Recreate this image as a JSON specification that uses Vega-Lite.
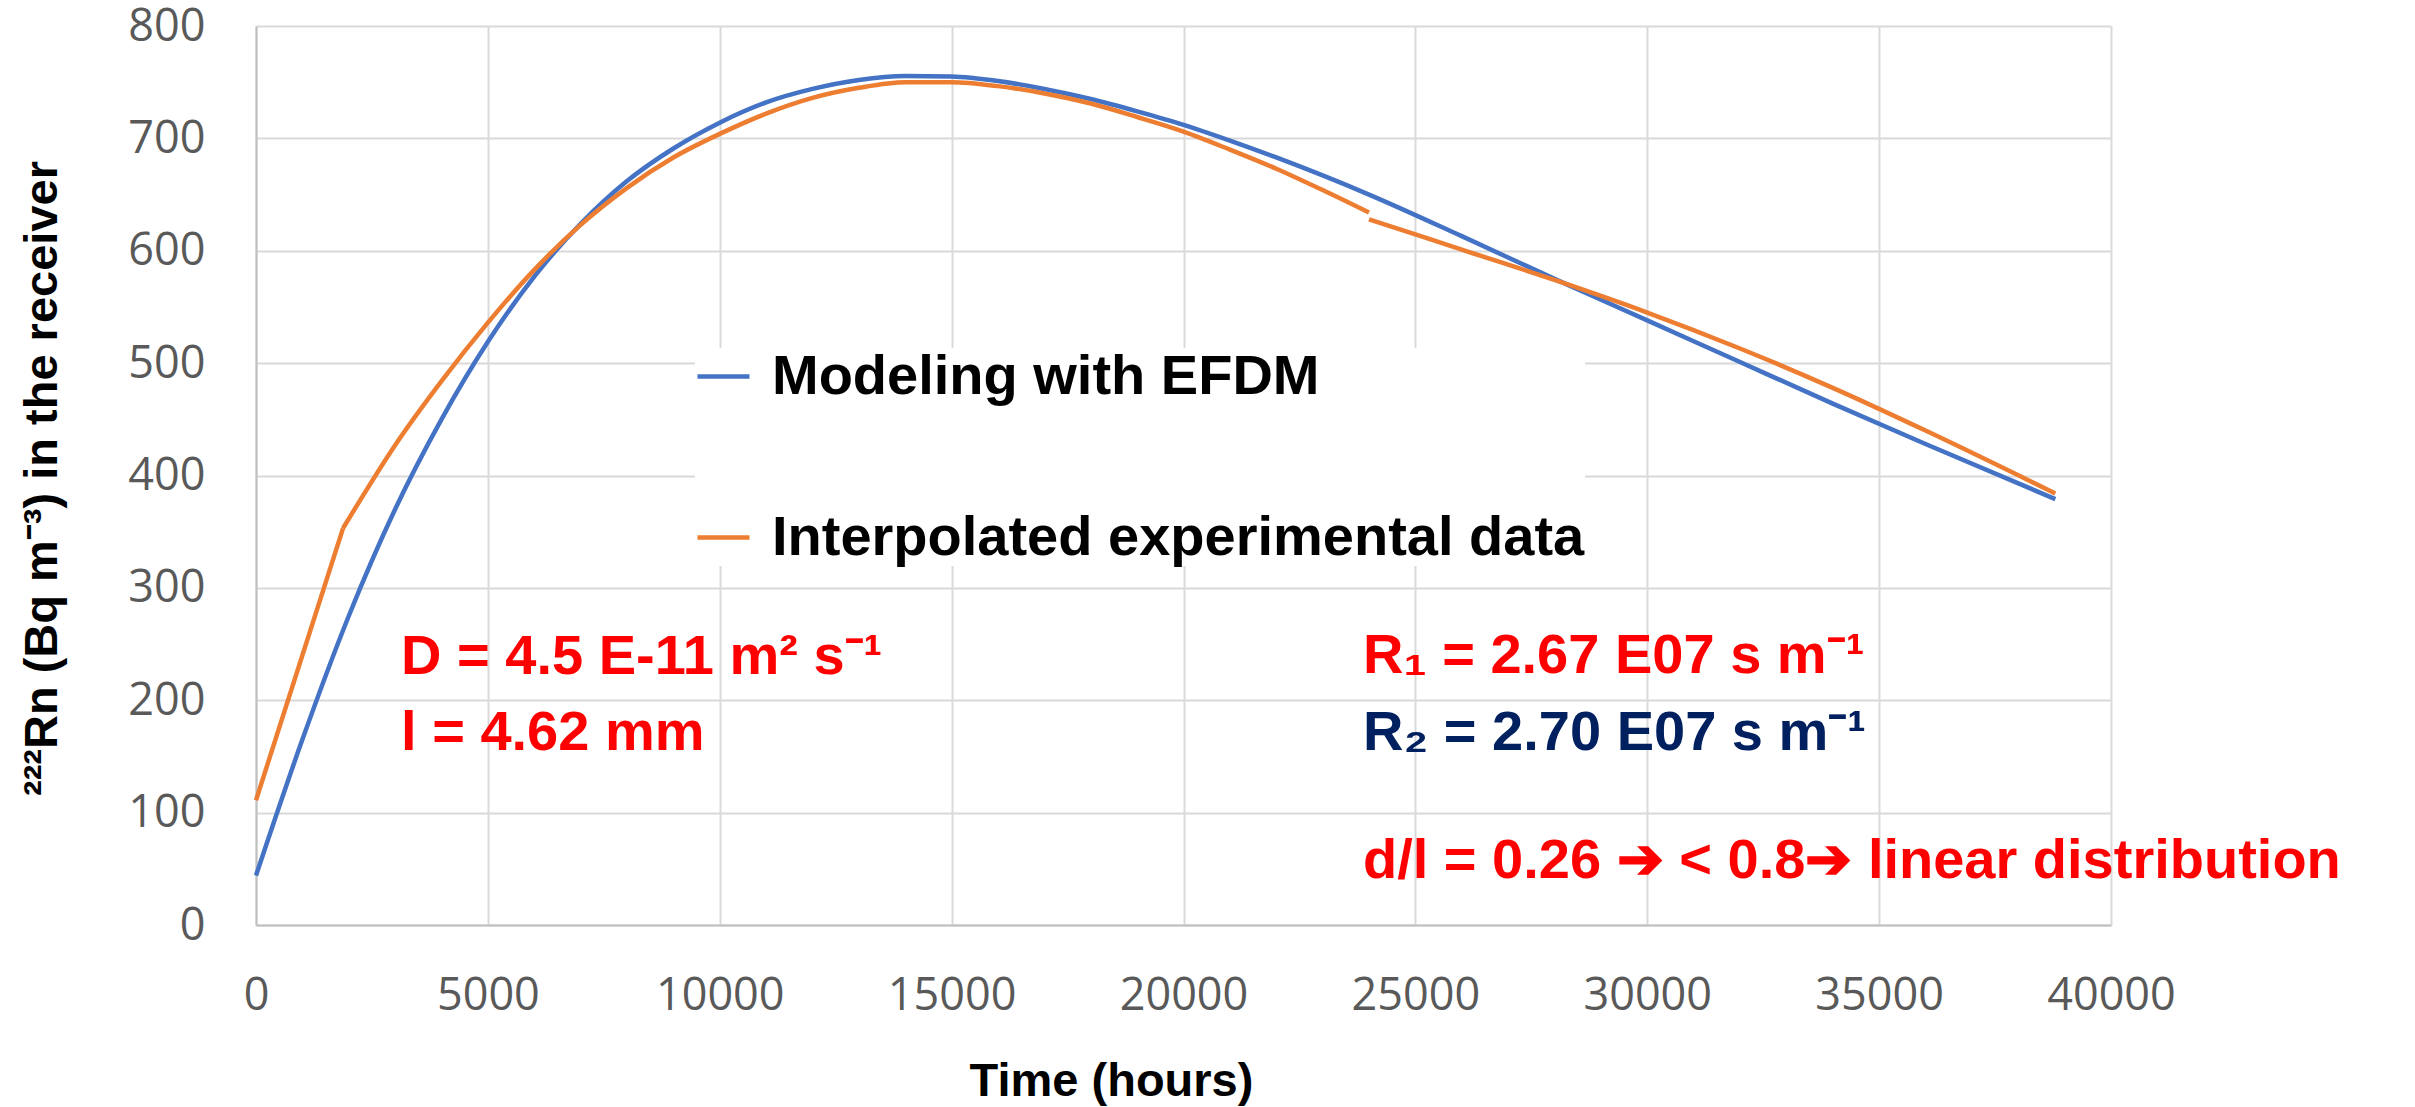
{
  "$schema": "https://vega.github.io/schema/vega-lite/v6.json",
  "width": 1855,
  "height": 899,
  "autosize": {"type": "none"},
  "padding": {"left": 256, "top": 26, "right": 304, "bottom": 182},
  "background": "white",
  "config": {"view": {"stroke": null}, "font": "Liberation Sans"},
  "datasets": {
    "curves": [
      {"series": "Modeling with  EFDM", "seg": "m", "t": 0, "v": 44},
      {"series": "Modeling with  EFDM", "seg": "m", "t": 1000, "v": 165},
      {"series": "Modeling with  EFDM", "seg": "m", "t": 2000, "v": 275},
      {"series": "Modeling with  EFDM", "seg": "m", "t": 3000, "v": 370},
      {"series": "Modeling with  EFDM", "seg": "m", "t": 4000, "v": 450},
      {"series": "Modeling with  EFDM", "seg": "m", "t": 5000, "v": 519},
      {"series": "Modeling with  EFDM", "seg": "m", "t": 6000, "v": 577},
      {"series": "Modeling with  EFDM", "seg": "m", "t": 7000, "v": 624},
      {"series": "Modeling with  EFDM", "seg": "m", "t": 8000, "v": 662},
      {"series": "Modeling with  EFDM", "seg": "m", "t": 9000, "v": 691},
      {"series": "Modeling with  EFDM", "seg": "m", "t": 10000, "v": 714},
      {"series": "Modeling with  EFDM", "seg": "m", "t": 11000, "v": 732},
      {"series": "Modeling with  EFDM", "seg": "m", "t": 12000, "v": 744},
      {"series": "Modeling with  EFDM", "seg": "m", "t": 13000, "v": 752},
      {"series": "Modeling with  EFDM", "seg": "m", "t": 14000, "v": 755.5},
      {"series": "Modeling with  EFDM", "seg": "m", "t": 15000, "v": 755},
      {"series": "Modeling with  EFDM", "seg": "m", "t": 16000, "v": 751},
      {"series": "Modeling with  EFDM", "seg": "m", "t": 17000, "v": 744},
      {"series": "Modeling with  EFDM", "seg": "m", "t": 18000, "v": 735},
      {"series": "Modeling with  EFDM", "seg": "m", "t": 19000, "v": 724},
      {"series": "Modeling with  EFDM", "seg": "m", "t": 20000, "v": 712},
      {"series": "Modeling with  EFDM", "seg": "m", "t": 21000, "v": 698},
      {"series": "Modeling with  EFDM", "seg": "m", "t": 22000, "v": 683},
      {"series": "Modeling with  EFDM", "seg": "m", "t": 23000, "v": 667},
      {"series": "Modeling with  EFDM", "seg": "m", "t": 24000, "v": 650},
      {"series": "Modeling with  EFDM", "seg": "m", "t": 26000, "v": 613},
      {"series": "Modeling with  EFDM", "seg": "m", "t": 28000, "v": 575},
      {"series": "Modeling with  EFDM", "seg": "m", "t": 30000, "v": 538},
      {"series": "Modeling with  EFDM", "seg": "m", "t": 32000, "v": 501},
      {"series": "Modeling with  EFDM", "seg": "m", "t": 34000, "v": 464},
      {"series": "Modeling with  EFDM", "seg": "m", "t": 36000, "v": 428},
      {"series": "Modeling with  EFDM", "seg": "m", "t": 38800, "v": 379},
      {"series": "Interpolated experimental data", "seg": "a", "t": 0, "v": 111},
      {"series": "Interpolated experimental data", "seg": "a", "t": 1876, "v": 353},
      {"series": "Interpolated experimental data", "seg": "b", "t": 1876, "v": 353},
      {"series": "Interpolated experimental data", "seg": "b", "t": 3000, "v": 427},
      {"series": "Interpolated experimental data", "seg": "b", "t": 4000, "v": 484},
      {"series": "Interpolated experimental data", "seg": "b", "t": 5000, "v": 536},
      {"series": "Interpolated experimental data", "seg": "b", "t": 6000, "v": 583},
      {"series": "Interpolated experimental data", "seg": "b", "t": 7000, "v": 623},
      {"series": "Interpolated experimental data", "seg": "b", "t": 8000, "v": 656},
      {"series": "Interpolated experimental data", "seg": "b", "t": 9000, "v": 683},
      {"series": "Interpolated experimental data", "seg": "b", "t": 10000, "v": 704},
      {"series": "Interpolated experimental data", "seg": "b", "t": 11000, "v": 722},
      {"series": "Interpolated experimental data", "seg": "b", "t": 12000, "v": 736},
      {"series": "Interpolated experimental data", "seg": "b", "t": 13000, "v": 745},
      {"series": "Interpolated experimental data", "seg": "b", "t": 14000, "v": 750},
      {"series": "Interpolated experimental data", "seg": "b", "t": 15000, "v": 750},
      {"series": "Interpolated experimental data", "seg": "b", "t": 16000, "v": 746.5},
      {"series": "Interpolated experimental data", "seg": "b", "t": 17000, "v": 740},
      {"series": "Interpolated experimental data", "seg": "b", "t": 18000, "v": 731},
      {"series": "Interpolated experimental data", "seg": "b", "t": 19000, "v": 719},
      {"series": "Interpolated experimental data", "seg": "b", "t": 20000, "v": 706},
      {"series": "Interpolated experimental data", "seg": "b", "t": 21000, "v": 690},
      {"series": "Interpolated experimental data", "seg": "b", "t": 22000, "v": 673},
      {"series": "Interpolated experimental data", "seg": "b", "t": 23000, "v": 654},
      {"series": "Interpolated experimental data", "seg": "b", "t": 24000, "v": 634},
      {"series": "Interpolated experimental data", "seg": "c", "t": 24000, "v": 628},
      {"series": "Interpolated experimental data", "seg": "c", "t": 26000, "v": 601},
      {"series": "Interpolated experimental data", "seg": "c", "t": 28000, "v": 574},
      {"series": "Interpolated experimental data", "seg": "c", "t": 30000, "v": 545},
      {"series": "Interpolated experimental data", "seg": "c", "t": 32000, "v": 513},
      {"series": "Interpolated experimental data", "seg": "c", "t": 34000, "v": 478},
      {"series": "Interpolated experimental data", "seg": "c", "t": 36000, "v": 440},
      {"series": "Interpolated experimental data", "seg": "c", "t": 38800, "v": 384}
    ],
    "notesRed": [
      {"t": 3127, "v": 223.4, "label": "D = 4.5 E-11 m² s⁻¹"},
      {"t": 3127, "v": 155.7, "label": "l = 4.62 mm"},
      {"t": 23870, "v": 224.3, "label": "R₁ = 2.67 E07 s m⁻¹"},
      {"t": 23870, "v": 41.8, "label": "d/l = 0.26 ➔ < 0.8➔ linear distribution"}
    ],
    "notesNavy": [
      {"t": 23870, "v": 155.7, "label": "R₂ = 2.70 E07 s m⁻¹"}
    ]
  },
  "layer": [
    {
      "data": {"name": "curves"},
      "mark": {"type": "line", "strokeWidth": 4.5, "interpolate": "monotone"},
      "encoding": {
        "x": {
          "field": "t", "type": "quantitative",
          "scale": {"domain": [0, 40000], "nice": false, "zero": true},
          "axis": {
            "values": [0, 5000, 10000, 15000, 20000, 25000, 30000, 35000, 40000],
            "format": "d",
            "grid": true, "gridColor": "#D9D9D9", "gridWidth": 2,
            "domainColor": "#BFBFBF", "domainWidth": 2,
            "ticks": false, "tickSize": 0,
            "labelFont": "Open Sans", "labelFontSize": 45, "labelColor": "#595959",
            "labelPadding": 48, "labelFlush": false, "labelOverlap": false,
            "title": "Time (hours)",
            "titleFont": "Liberation Sans", "titleFontWeight": "bold",
            "titleFontSize": 47, "titleColor": "black",
            "titleX": 855, "titleY": 170, "titleBaseline": "alphabetic", "titleAlign": "center"
          }
        },
        "y": {
          "field": "v", "type": "quantitative",
          "scale": {"domain": [0, 800], "nice": false},
          "axis": {
            "values": [0, 100, 200, 300, 400, 500, 600, 700, 800],
            "format": "d",
            "grid": true, "gridColor": "#D9D9D9", "gridWidth": 2,
            "domainColor": "#BFBFBF", "domainWidth": 2,
            "ticks": false, "tickSize": 0,
            "labelFont": "Open Sans", "labelFontSize": 45, "labelColor": "#595959",
            "labelPadding": 51, "labelOverlap": false,
            "title": "²²²Rn (Bq m⁻³) in the receiver",
            "titleFont": "Liberation Sans", "titleFontWeight": "bold",
            "titleFontSize": 47, "titleColor": "black",
            "titleX": -214, "titleY": 452, "titleBaseline": "middle", "titleAlign": "center", "titleAngle": -90
          }
        },
        "color": {
          "field": "series", "type": "nominal",
          "scale": {"domain": ["Modeling with  EFDM", "Interpolated experimental data"], "range": ["#4472C4", "#ED7D31"]},
          "legend": {
            "orient": "none", "legendX": 439, "legendY": 322,
            "title": null,
            "symbolType": "stroke", "symbolStrokeWidth": 4.5, "symbolSize": 2704,
            "labelFont": "Liberation Sans", "labelFontWeight": "bold", "labelFontSize": 56,
            "labelColor": "black", "labelLimit": 2000, "labelOffset": 20,
            "rowPadding": 104, "padding": 0, "fillColor": "white"
          }
        },
        "detail": {"field": "seg", "type": "nominal"}
      }
    },
    {
      "data": {"name": "notesRed"},
      "mark": {"type": "text", "align": "left", "baseline": "alphabetic", "font": "Liberation Sans", "fontWeight": "bold", "fontSize": 56, "color": "#FF0000"},
      "encoding": {
        "x": {"field": "t", "type": "quantitative"},
        "y": {"field": "v", "type": "quantitative"},
        "text": {"field": "label", "type": "nominal"}
      }
    },
    {
      "data": {"name": "notesNavy"},
      "mark": {"type": "text", "align": "left", "baseline": "alphabetic", "font": "Liberation Sans", "fontWeight": "bold", "fontSize": 56, "color": "#002060"},
      "encoding": {
        "x": {"field": "t", "type": "quantitative"},
        "y": {"field": "v", "type": "quantitative"},
        "text": {"field": "label", "type": "nominal"}
      }
    }
  ]
}
